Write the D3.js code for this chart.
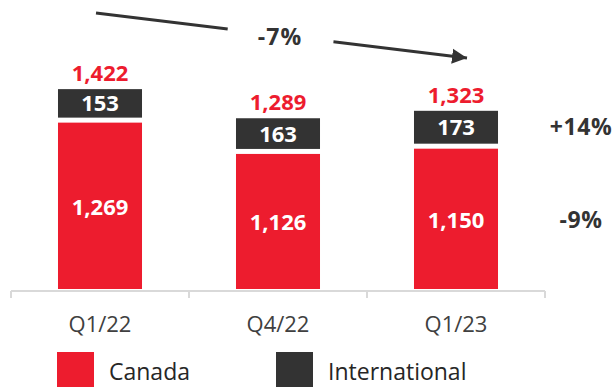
<!DOCTYPE html>
<html>
<head>
<meta charset="utf-8">
<script src="https://cdn.jsdelivr.net/npm/d3@7"></script>
<style>
  html, body { margin: 0; padding: 0; background: #fff; }
  svg { display: block; font-family: "Open Sans", "Noto Sans", sans-serif; }
</style>
</head>
<body>
<svg id="chart" width="614" height="387"></svg>
<script>
// Quarterly volumes by region
const quarters = ["Q1/22", "Q4/22", "Q1/23"];
const canada = [1269, 1126, 1150];
const international = [153, 163, 173];
const totals = [1422, 1289, 1323];
const seriesNames = ["Canada", "International"];
const changeTotal = "-7%";
const changeInternational = "+14%";
const changeCanada = "-9%";

const RED = "#ED1C2E";
const DARK = "#333333";
const svg = d3.select("#chart");

// Axis starts above zero so the stacks fill the frame
const x = d3.scaleBand().domain(quarters).range([11, 545])
  .paddingInner(0.528).paddingOuter(0.264);
const y = d3.scaleLinear().domain([500, 1450]).range([291, 83]);

const rows = quarters.map((q, i) => ({
  q, canada: canada[i], intl: international[i], total: totals[i]
}));

// Canada segment
svg.append("g").selectAll("rect").data(rows).join("rect")
  .attr("x", d => x(d.q))
  .attr("width", x.bandwidth())
  .attr("y", d => y(d.canada))
  .attr("height", d => y.range()[0] - 2 - y(d.canada))
  .attr("fill", RED);

// International segment, separated from Canada by a small gap
const gap = 5;
svg.append("g").selectAll("rect").data(rows).join("rect")
  .attr("x", d => x(d.q))
  .attr("width", x.bandwidth())
  .attr("y", d => y(d.total))
  .attr("height", d => y(d.canada) - gap - y(d.total))
  .attr("fill", DARK);

// Segment values
svg.append("g").selectAll("text").data(rows).join("text")
  .attr("x", d => x(d.q) + x.bandwidth() / 2)
  .attr("y", d => (y(d.canada) + y.range()[0]) / 2 + 8)
  .attr("text-anchor", "middle")
  .attr("fill", "#fff").attr("font-weight", 700).attr("font-size", 22)
  .text(d => d3.format(",")(d.canada));

svg.append("g").selectAll("text").data(rows).join("text")
  .attr("x", d => x(d.q) + x.bandwidth() / 2)
  .attr("y", d => (y(d.total) + y(d.canada) - gap) / 2 + 8)
  .attr("text-anchor", "middle")
  .attr("fill", "#fff").attr("font-weight", 700).attr("font-size", 22)
  .text(d => d3.format(",")(d.intl));

// Totals above each stack
svg.append("g").selectAll("text").data(rows).join("text")
  .attr("x", d => x(d.q) + x.bandwidth() / 2)
  .attr("y", d => y(d.total) - 8)
  .attr("text-anchor", "middle")
  .attr("fill", RED).attr("font-weight", 700).attr("font-size", 22)
  .text(d => d3.format(",")(d.total));

// Category axis with ticks between groups
const step = x.step();
const bounds = quarters.map(q => x(q) - step * x.paddingInner() / 2);
bounds.push(x(quarters[quarters.length - 1]) + x.bandwidth() + step * x.paddingInner() / 2);
const axisY = 291;
svg.append("line")
  .attr("x1", bounds[0]).attr("x2", bounds[bounds.length - 1])
  .attr("y1", axisY).attr("y2", axisY)
  .attr("stroke", "#d9d9d9").attr("stroke-width", 2);
svg.append("g").selectAll("line").data(bounds).join("line")
  .attr("x1", d => d).attr("x2", d => d)
  .attr("y1", axisY).attr("y2", axisY + 7)
  .attr("stroke", "#d9d9d9").attr("stroke-width", 2);
svg.append("g").selectAll("text").data(quarters).join("text")
  .attr("x", d => x(d) + x.bandwidth() / 2)
  .attr("y", 332)
  .attr("text-anchor", "middle")
  .attr("fill", "#404040").attr("font-size", 22)
  .text(d => d);

// Overall trend arrow, interrupted by its label
const defs = svg.append("defs");
defs.append("marker").attr("id", "arrowHead")
  .attr("viewBox", "0 0 10 10").attr("refX", 10).attr("refY", 5)
  .attr("markerWidth", 5).attr("markerHeight", 5.2)
  .attr("markerUnits", "strokeWidth")
  .attr("orient", "auto")
  .append("path").attr("d", "M0,0 L10,5 L0,10 Z").attr("fill", DARK);

const ax0 = 96, ay0 = 13, ax1 = 467, ay1 = 58;
const at = t => [ax0 + (ax1 - ax0) * t, ay0 + (ay1 - ay0) * t];
const p1 = at(0.355), p2 = at(0.64);
svg.append("line")
  .attr("x1", ax0).attr("y1", ay0).attr("x2", p1[0]).attr("y2", p1[1])
  .attr("stroke", DARK).attr("stroke-width", 3);
svg.append("line")
  .attr("x1", p2[0]).attr("y1", p2[1]).attr("x2", ax1).attr("y2", ay1)
  .attr("stroke", DARK).attr("stroke-width", 3)
  .attr("marker-end", "url(#arrowHead)");
svg.append("text")
  .attr("x", 280).attr("y", 45)
  .attr("text-anchor", "middle")
  .attr("fill", DARK).attr("font-weight", 700).attr("font-size", 23)
  .attr("letter-spacing", 1)
  .text(changeTotal);

// Segment growth labels on the right
const last = rows[rows.length - 1];
svg.append("text")
  .attr("x", 581).attr("y", (y(last.total) + y(last.canada) - gap) / 2 + 8)
  .attr("text-anchor", "middle")
  .attr("fill", DARK).attr("font-weight", 700).attr("font-size", 23)
  .attr("letter-spacing", 0.6)
  .text(changeInternational);
svg.append("text")
  .attr("x", 581).attr("y", (y(last.canada) + y.range()[0]) / 2 + 8)
  .attr("text-anchor", "middle")
  .attr("fill", DARK).attr("font-weight", 700).attr("font-size", 23)
  .attr("letter-spacing", 0.6)
  .text(changeCanada);

// Legend
const legendX = [57, 276];
const legend = svg.append("g").selectAll("g").data(seriesNames).join("g")
  .attr("transform", (d, i) => `translate(${legendX[i]},352)`);
legend.append("rect")
  .attr("width", 37).attr("height", 36)
  .attr("fill", (d, i) => i === 0 ? RED : DARK);
legend.append("text")
  .attr("x", 52).attr("y", 28)
  .attr("fill", "#262626").attr("font-size", 23)
  .text(d => d);
</script>
</body>
</html>
